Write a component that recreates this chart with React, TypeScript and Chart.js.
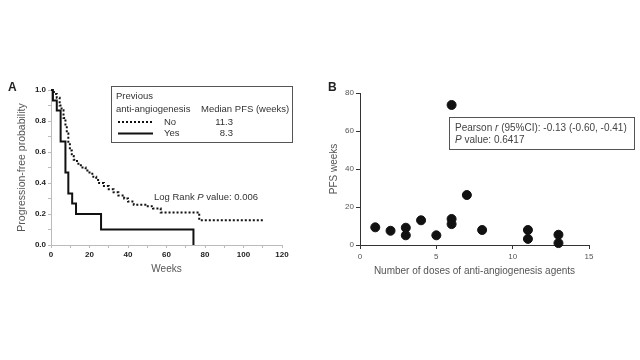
import React, { useEffect, useRef } from "react";
import { Chart, registerables } from "chart.js";

Chart.register(...registerables);

const FONT = "'Liberation Sans', Arial, Helvetica, sans-serif";

// Panel A: Kaplan-Meier curves (weeks, progression-free probability)
const noWeeks = [0, 1.5, 3, 4.5, 5.5, 6.5, 7.5, 8.2, 9, 9.8, 10.8, 11.8, 13.5, 15.5, 18, 20, 22, 23.5, 25, 27.5, 30, 32.5, 35, 38, 40, 43, 49, 53, 57, 77, 111];
const noSurvival = [1, 0.975, 0.95, 0.9, 0.87, 0.82, 0.77, 0.72, 0.66, 0.61, 0.575, 0.55, 0.525, 0.5, 0.48, 0.46, 0.44, 0.42, 0.4, 0.38, 0.36, 0.34, 0.32, 0.3, 0.28, 0.26, 0.25, 0.235, 0.21, 0.16, 0.16];
const yesWeeks = [0, 1, 3, 5, 7.5, 9, 11, 13, 26, 74];
const yesSurvival = [1, 0.933, 0.867, 0.667, 0.467, 0.333, 0.267, 0.2, 0.1, 0];

const legendGroups = ["No", "Yes"];
const medianPfs = ["11.3", "8.3"];

// Panel B: scatter (number of doses vs PFS weeks)
const doses = [1, 2, 3, 3, 4, 5, 6, 6, 6, 7, 8, 11, 11, 13, 13];
const pfsWeeks = [9.3, 7.5, 9.1, 5.1, 13, 5.1, 73.7, 13.7, 11, 26.3, 7.9, 7.9, 3.2, 5.4, 1.0];

function drawRuns(ctx: CanvasRenderingContext2D, runs: [string, boolean][], x: number, y: number, size: number) {
  let cx = x;
  for (const [txt, italic] of runs) {
    ctx.font = `${italic ? "italic " : ""}${size}px ${FONT}`;
    ctx.fillText(txt, cx, y);
    cx += ctx.measureText(txt).width;
  }
}

const annotA = {
  id: "annotA",
  afterDraw(chart: any) {
    const ctx: CanvasRenderingContext2D = chart.ctx;
    ctx.save();
    ctx.textBaseline = "middle";
    ctx.textAlign = "left";
    ctx.fillStyle = "#222";
    ctx.font = `bold 12px ${FONT}`;
    ctx.fillText("A", 8, 88);

    // legend box
    ctx.fillStyle = "#fff";
    ctx.fillRect(111, 86, 182, 56);
    ctx.strokeStyle = "#555";
    ctx.lineWidth = 1;
    ctx.strokeRect(111.5, 86.5, 181, 56);

    ctx.fillStyle = "#333";
    ctx.font = `9.5px ${FONT}`;
    ctx.fillText("Previous", 116, 96);
    ctx.fillText("anti-angiogenesis", 116, 109);
    ctx.fillText("Median PFS (weeks)", 201, 109);
    const rowsY = [122, 133.5];
    legendGroups.forEach((g, i) => {
      ctx.fillStyle = "#333";
      ctx.textAlign = "left";
      ctx.fillText(g, 164, rowsY[i]);
      ctx.textAlign = "right";
      ctx.fillText(medianPfs[i], 233, rowsY[i]);
      ctx.strokeStyle = "#111";
      ctx.lineWidth = 2;
      ctx.setLineDash(i === 0 ? [2, 2] : []);
      ctx.beginPath();
      ctx.moveTo(118, rowsY[i]);
      ctx.lineTo(153, rowsY[i]);
      ctx.stroke();
    });
    ctx.setLineDash([]);
    ctx.textAlign = "left";
    ctx.fillStyle = "#333";
    drawRuns(ctx, [["Log Rank ", false], ["P", true], [" value: 0.006", false]], 154, 197, 9.5);
    ctx.restore();
  },
};

const annotB = {
  id: "annotB",
  afterDraw(chart: any) {
    const ctx: CanvasRenderingContext2D = chart.ctx;
    ctx.save();
    ctx.textBaseline = "middle";
    ctx.textAlign = "left";
    ctx.fillStyle = "#222";
    ctx.font = `bold 12px ${FONT}`;
    ctx.fillText("B", 8, 88);

    ctx.fillStyle = "#fff";
    ctx.fillRect(129, 117, 185, 32);
    ctx.strokeStyle = "#555";
    ctx.lineWidth = 1;
    ctx.strokeRect(129.5, 117.5, 185, 32);
    ctx.fillStyle = "#444";
    drawRuns(ctx, [["Pearson ", false], ["r", true], [" (95%CI): -0.13 (-0.60, -0.41)", false]], 135, 128, 10);
    drawRuns(ctx, [["P", true], [" value: 0.6417", false]], 135, 140.5, 10);
    ctx.restore();
  },
};

function PanelA() {
  const ref = useRef<HTMLCanvasElement>(null);
  useEffect(() => {
    const chart = new Chart(ref.current!, {
      type: "line",
      data: {
        datasets: [
          {
            label: "No",
            data: noWeeks.map((w, i) => ({ x: w, y: noSurvival[i] })),
            borderColor: "#111",
            borderWidth: 2,
            borderDash: [2, 2],
            stepped: true,
            pointRadius: 0,
            fill: false,
            clip: false as any,
          },
          {
            label: "Yes",
            data: yesWeeks.map((w, i) => ({ x: w, y: yesSurvival[i] })),
            borderColor: "#111",
            borderWidth: 2,
            stepped: true,
            pointRadius: 0,
            fill: false,
            clip: false as any,
          },
        ],
      },
      options: {
        responsive: false,
        animation: false,
        layout: { padding: { left: 16, right: 38, top: 90, bottom: 85 } },
        plugins: { legend: { display: false }, tooltip: { enabled: false } },
        scales: {
          x: {
            type: "linear",
            min: 0,
            max: 120,
            ticks: {
              stepSize: 10,
              autoSkip: false,
              maxRotation: 0,
              callback: (v: any) => (Math.round(v) % 20 === 0 ? String(Math.round(v)) : ""),
              font: { size: 8, weight: "bold", family: FONT },
              color: "#222",
              padding: 2,
            },
            grid: { drawOnChartArea: false, tickLength: 3, color: "#bbb" },
            border: { color: "#bbb", width: 1 },
            title: { display: true, text: "Weeks", font: { size: 10, family: FONT }, color: "#555", padding: { top: 0, bottom: 0 } },
            afterFit: (s: any) => { s.height = 30; },
          },
          y: {
            min: 0,
            max: 1,
            ticks: {
              stepSize: 0.1,
              autoSkip: false,
              callback: (v: any) => { const k = Math.round(v * 10); return k % 2 === 0 ? (k / 10).toFixed(1) : ""; },
              font: { size: 8, weight: "bold", family: FONT },
              color: "#222",
              padding: 2,
            },
            grid: { drawOnChartArea: false, tickLength: 3, color: "#bbb" },
            border: { color: "#bbb", width: 1 },
            title: { display: true, text: "Progression-free probability", font: { size: 10.5, family: FONT }, color: "#555", padding: { top: 0, bottom: 0 } },
            afterFit: (s: any) => { s.width = 35; },
          },
        },
      } as any,
      plugins: [annotA],
    });
    return () => chart.destroy();
  }, []);
  return <canvas ref={ref} width={320} height={360} style={{ position: "absolute", left: 0, top: 0, width: 320, height: 360 }} />;
}

function PanelB() {
  const ref = useRef<HTMLCanvasElement>(null);
  useEffect(() => {
    const chart = new Chart(ref.current!, {
      type: "scatter",
      data: {
        datasets: [
          {
            label: "PFS",
            data: doses.map((d, i) => ({ x: d, y: pfsWeeks[i] })),
            backgroundColor: "#111",
            borderColor: "#111",
            pointRadius: 4.5,
            clip: false as any,
          },
        ],
      },
      options: {
        responsive: false,
        animation: false,
        layout: { padding: { left: 8, right: 51, top: 93, bottom: 83 } },
        plugins: { legend: { display: false }, tooltip: { enabled: false } },
        scales: {
          x: {
            type: "linear",
            min: 0,
            max: 15,
            ticks: { stepSize: 5, autoSkip: false, maxRotation: 0, font: { size: 8, family: FONT }, color: "#555", padding: 3 },
            grid: { drawOnChartArea: false, tickLength: 4, color: "#333" },
            border: { color: "#333", width: 1 },
            title: { display: true, text: "Number of doses of anti-angiogenesis agents", font: { size: 10, family: FONT }, color: "#555", padding: { top: 0, bottom: 0 } },
            afterFit: (s: any) => { s.height = 32; },
          },
          y: {
            min: 0,
            max: 80,
            ticks: { stepSize: 20, autoSkip: false, font: { size: 8, family: FONT }, color: "#555", padding: 2 },
            grid: { drawOnChartArea: false, tickLength: 4, color: "#333" },
            border: { color: "#333", width: 1 },
            title: { display: true, text: "PFS weeks", font: { size: 10, family: FONT }, color: "#555", padding: { top: 0, bottom: 0 } },
            afterFit: (s: any) => { s.width = 32; },
          },
        },
      } as any,
      plugins: [annotB],
    });
    return () => chart.destroy();
  }, []);
  return <canvas ref={ref} width={320} height={360} style={{ position: "absolute", left: 320, top: 0, width: 320, height: 360 }} />;
}

export default function App() {
  return (
    <div style={{ position: "absolute", left: 0, top: 0, width: 640, height: 360, background: "#fff", overflow: "hidden" }}>
      <PanelA />
      <PanelB />
    </div>
  );
}
